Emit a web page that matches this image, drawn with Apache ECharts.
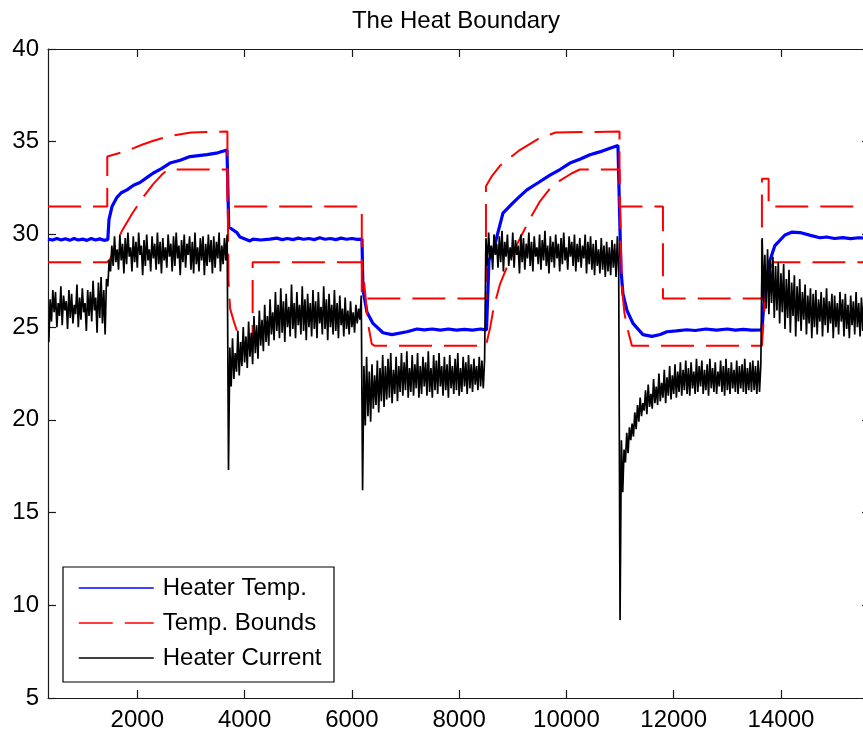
<!DOCTYPE html>
<html><head><meta charset="utf-8">
<script src="https://cdn.jsdelivr.net/npm/echarts@6/dist/echarts.min.js"></script>
<style>html,body{margin:0;padding:0;overflow:hidden;background:#fff}#c{width:870px;height:732px}</style>
</head><body><div id="c"></div>
<script>
const titleText = 'The Heat Boundary';
const seriesNames = ['Heater Temp.', 'Temp. Bounds', 'Heater Current'];
const xTicks = [2000, 4000, 6000, 8000, 10000, 12000, 14000];
const yTicks = [5, 10, 15, 20, 25, 30, 35, 40];

const heaterTemp = [
  [335,29.75],[420,29.7],[500,29.78],[580,29.7],[660,29.77],[740,29.68],[820,29.78],[900,29.7],[980,29.75],[1060,29.68],[1140,29.78],[1220,29.7],[1300,29.76],[1380,29.68],[1450,29.72],
  [1472,30.8],[1528,31.5],[1621,32.0],[1700,32.25],[1808,32.4],[1930,32.65],[2050,32.8],[2170,33.05],[2292,33.3],[2450,33.55],[2609,33.85],[2800,34.0],[2982,34.2],[3140,34.25],[3299,34.3],[3500,34.4],[3672,34.55],[3690,34.5],
  [3705,30.4],[3858,30.1],[3914,29.86],[4100,29.65],[4156,29.75],[4300,29.7],[4473,29.75],[4600,29.8],[4700,29.72],[4800,29.78],[4900,29.72],[5000,29.8],[5100,29.74],[5200,29.78],[5300,29.72],[5400,29.82],[5500,29.74],[5600,29.78],[5700,29.72],[5800,29.8],[5900,29.74],[6000,29.78],[6100,29.73],[6189,29.75],
  [6207,27.0],[6282,25.8],[6394,25.2],[6580,24.7],[6748,24.6],[7028,24.75],[7214,24.9],[7350,24.85],[7500,24.9],[7650,24.84],[7800,24.9],[7950,24.84],[8100,24.88],[8250,24.84],[8400,24.9],[8510,24.85],
  [8556,28.6],[8631,29.05],[8705,29.9],[8817,31.15],[9003,31.7],[9130,32.05],[9264,32.4],[9480,32.8],[9693,33.2],[9880,33.5],[10066,33.85],[10250,34.05],[10439,34.3],[10620,34.45],[10812,34.65],[10961,34.8],[10998,34.85],
  [11017,28.1],[11054,26.8],[11129,25.9],[11241,25.2],[11427,24.6],[11595,24.5],[11750,24.6],[11874,24.75],[12050,24.8],[12247,24.86],[12400,24.82],[12600,24.9],[12800,24.84],[13000,24.9],[13150,24.84],[13300,24.88],[13450,24.84],[13645,24.85],
  [13701,27.0],[13794,28.6],[13887,29.4],[14074,29.97],[14200,30.12],[14353,30.1],[14550,29.95],[14726,29.82],[14850,29.86],[15000,29.78],[15150,29.83],[15300,29.77],[15450,29.82],[15660,29.8]
];

const boundUpper = [
  [335,31.5],[1440,31.5],[1440,34.2],[1800,34.5],[2100,34.85],[2300,35.05],[2600,35.3],[3000,35.5],[3680,35.55],[3680,31.5],
  [6185,31.5],[6185,26.55],[8500,26.55],[8500,32.6],[8600,33.1],[8760,33.7],[9130,34.55],[9500,35.2],[9800,35.5],[10990,35.55],[10990,31.5],
  [11800,31.5],[11800,26.55],[13645,26.55],[13645,33.0],[13770,33.0],[13770,31.5],[15660,31.5]
];

const boundLower = [
  [335,28.5],[1440,28.5],[1500,28.7],[1550,29.1],[1715,30.2],[1900,31.1],[2106,32.0],[2292,32.7],[2450,33.2],[2570,33.5],[3680,33.5],
  [3700,27.5],[3730,26.0],[3800,25.3],[3880,24.6],[3970,24.1],[4150,24.0],[4150,28.5],[6185,28.5],
  [6250,26.8],[6300,25.2],[6370,24.1],[6420,24.0],[8500,24.0],[8580,25.0],[8640,26.0],[8760,27.3],[8900,28.3],[9050,29.3],[9190,30.1],[9350,31.0],[9510,31.8],[9700,32.5],[9880,32.9],[10100,33.3],[10250,33.5],[10990,33.5],
  [11010,30.0],[11040,27.0],[11080,25.8],[11130,25.0],[11221,24.0],[13645,24.0],[13680,25.5],[13720,27.0],[13780,28.0],[13850,28.5],[15660,28.5]
];

const currentStart = 350;
const currentStep = 25;
const heaterCurrent = [
  24.2,26.5,25.3,27.0,25.8,26.9,25.0,26.3,25.6,27.2,
  25.1,26.7,25.9,26.4,24.9,27.0,25.5,26.8,25.2,26.2,
  25.7,27.3,25.0,26.6,25.4,27.1,25.8,26.3,24.8,27.0,
  25.6,26.9,25.3,27.5,25.9,26.6,24.7,27.4,25.5,27.7,
  25.2,27.0,24.6,27.6,
  27.2,28.6,28.0,29.4,28.3,29.9,28.5,29.2,28.1,30.0,
  28.6,29.5,27.9,29.8,28.4,30.1,28.8,29.3,28.0,29.9,
  28.5,29.6,28.2,30.1,28.9,29.4,27.8,29.7,28.3,30.0,
  28.6,29.2,28.0,29.9,28.7,29.5,28.1,30.1,28.4,29.6,
  27.9,29.8,28.6,29.3,28.2,30.0,28.8,29.5,28.0,29.9,
  28.3,30.1,28.7,29.4,27.8,29.7,28.5,30.0,28.2,29.5,
  28.9,29.9,28.1,29.6,27.9,30.1,28.4,29.3,28.0,29.8,
  28.6,29.9,27.8,29.5,28.3,30.0,28.5,29.7,27.9,29.9,
  28.2,29.6,28.7,30.1,28.0,29.4,28.4,29.8,28.6,30.0,
  17.3,23.9,21.8,24.4,22.2,23.6,22.6,24.8,22.4,24.2,
  22.9,25.0,23.1,24.5,22.8,25.3,23.4,24.7,23.0,25.6,
  23.6,25.1,23.3,25.9,24.0,25.4,23.7,26.2,24.2,25.6,
  24.0,26.5,24.6,25.8,24.3,26.9,24.8,26.2,24.4,27.1,
  24.7,26.4,24.2,26.8,25.0,26.1,24.5,27.3,24.9,26.3,
  24.4,26.9,25.1,26.2,24.6,27.2,24.8,26.5,24.3,26.8,
  25.0,26.3,24.5,27.0,24.9,26.4,24.4,26.9,25.2,26.1,
  24.6,27.2,24.9,26.5,24.3,26.8,25.0,26.2,24.6,27.0,
  24.8,26.3,24.4,26.7,25.1,26.0,24.5,26.6,24.9,25.9,
  24.6,26.4,25.0,25.8,24.7,26.2,25.2,26.0,25.4,26.7,
  16.2,22.9,19.7,23.4,20.2,22.6,19.9,23.0,20.6,22.4,
  20.8,23.2,20.4,22.8,21.0,23.5,20.7,22.9,21.1,23.3,
  21.2,23.6,20.9,22.7,21.4,23.4,21.0,22.9,21.5,23.6,
  21.3,23.1,21.6,23.7,21.2,22.8,21.5,23.5,21.3,23.0,
  21.7,23.6,21.2,22.9,21.4,23.4,21.8,23.1,21.3,23.7,
  21.5,22.8,21.2,23.5,21.6,23.2,21.4,23.6,21.8,22.9,
  21.3,23.4,21.6,23.0,21.2,23.5,21.7,22.9,21.4,23.3,
  21.6,23.6,21.3,22.8,21.5,23.4,21.8,23.1,21.4,23.5,
  21.7,23.0,21.5,23.3,21.9,22.9,21.6,23.4,21.8,23.2,
  21.7,23.3,
  29.8,28.3,30.1,28.7,29.4,28.1,30.0,28.9,29.5,28.2,
  29.9,28.5,30.2,28.0,29.6,28.8,30.0,28.3,29.3,28.6,
  30.1,28.2,29.7,28.9,29.4,27.9,30.0,28.5,29.8,28.1,
  29.5,28.7,30.1,28.3,29.6,28.0,29.9,28.8,29.3,28.4,
  30.0,28.1,29.7,28.6,30.2,28.3,29.4,27.9,29.9,28.5,
  29.6,28.2,30.0,28.7,29.5,28.0,29.8,28.4,30.1,28.6,
  29.3,28.1,29.9,28.8,29.6,28.3,30.0,28.0,29.5,28.5,
  29.8,28.2,29.4,28.7,30.0,27.9,29.6,28.4,29.9,28.1,
  29.5,27.8,29.7,28.3,29.2,27.9,29.8,28.1,29.4,27.7,
  29.6,28.0,29.3,27.8,29.7,28.2,29.5,27.7,29.9,27.9,
  9.2,18.9,16.1,18.4,17.7,19.3,18.2,19.6,18.9,19.8,
  19.1,20.4,19.5,20.8,19.9,21.2,20.2,20.9,20.5,21.6,
  20.3,21.9,20.7,21.4,20.6,22.2,20.9,21.8,20.8,22.5,
  21.0,22.0,21.2,22.7,20.9,22.3,21.3,22.9,21.1,22.4,
  21.4,23.0,21.2,22.6,21.5,23.1,21.3,22.7,21.6,23.2,
  21.4,22.8,21.3,23.1,21.7,22.6,21.4,23.3,21.5,22.9,
  21.8,23.2,21.4,22.7,21.6,23.0,21.3,23.3,21.7,22.8,
  21.5,23.1,21.4,22.6,21.8,23.2,21.5,22.9,21.3,23.3,
  21.6,22.8,21.4,23.1,21.7,22.7,21.5,23.2,21.4,22.9,
  21.7,23.0,21.5,23.3,21.4,22.8,21.6,23.1,21.5,23.2,
  21.6,22.9,21.4,23.2,21.5,23.0,
  29.8,26.4,28.9,26.0,29.2,25.7,28.6,26.3,28.8,25.5,
  28.3,25.9,28.5,25.2,27.9,25.8,28.4,24.9,27.6,25.5,
  28.1,24.7,27.4,25.6,27.8,24.5,27.2,25.3,27.6,24.8,
  26.9,25.4,27.3,24.6,26.7,25.2,27.1,24.4,26.8,25.0,
  27.0,24.6,26.5,25.3,26.9,24.5,26.6,25.1,27.1,24.7,
  26.4,25.2,26.8,24.4,26.7,25.0,26.3,24.6,26.9,25.3,
  26.5,24.5,26.8,24.9,26.2,24.4,26.7,25.1,26.4,24.6,
  26.9,25.0,26.3,24.5,26.6,24.8,26.8,24.4,26.5,25.1,
  26.6
];

const FONT = 'Liberation Sans, Arial, sans-serif';
const AX = '#1a1a1a';
const FS = 24;
const currentData = heaterCurrent.map((v, i) => [currentStart + currentStep * i, v]);

const chart = echarts.init(document.getElementById('c'), null, {renderer: 'canvas'});
chart.setOption({
  animation: false,
  backgroundColor: '#fff',
  title: {
    text: titleText, left: 456, top: 9, textAlign: 'center', padding: 0,
    textStyle: {fontFamily: FONT, fontSize: FS, fontWeight: 'normal', color: '#000'}
  },
  grid: {left: 48, top: 49, right: 0, bottom: 34},
  graphic: [{
    type: 'rect', z: 5, shape: {x: 63, y: 567, width: 271, height: 115},
    style: {fill: '#fff', stroke: '#000', lineWidth: 1.2}
  }],
  legend: {
    z: 6, orient: 'vertical', left: 78, top: 576, padding: 0,
    itemWidth: 75, itemHeight: 14, itemGap: 11,
    data: [
      {name: seriesNames[0], itemStyle: {opacity: 0}, lineStyle: {color: '#0000ff', width: 1.5, type: 'solid'}},
      {name: seriesNames[1], itemStyle: {opacity: 0}, lineStyle: {color: '#ff0000', width: 1.5, type: [34, 12]}},
      {name: seriesNames[2], itemStyle: {opacity: 0}, lineStyle: {color: '#000000', width: 1.5, type: 'solid'}}
    ],
    textStyle: {fontFamily: FONT, fontSize: FS, color: '#000', lineHeight: 24, padding: [0, 0, 0, 4]},
    selectedMode: false
  },
  xAxis: [{
    type: 'value', min: 335, max: 15660, position: 'bottom',
    axisLine: {lineStyle: {color: AX, width: 1.2}},
    axisTick: {inside: true, length: 8, lineStyle: {color: AX, width: 1.2}, customValues: xTicks},
    axisLabel: {customValues: xTicks, formatter: v => String(v), fontFamily: FONT, fontSize: FS, color: '#000', margin: 10},
    splitLine: {show: false}
  }, {
    type: 'value', min: 335, max: 15660, position: 'top',
    axisLine: {lineStyle: {color: AX, width: 1.2}},
    axisTick: {inside: true, length: 8, lineStyle: {color: AX, width: 1.2}, customValues: xTicks},
    axisLabel: {show: false},
    splitLine: {show: false}
  }],
  yAxis: [{
    type: 'value', min: 5, max: 40, interval: 5, position: 'left',
    axisLine: {show: true, lineStyle: {color: AX, width: 1.2}},
    axisTick: {show: true, inside: true, length: 8, lineStyle: {color: AX, width: 1.2}},
    axisLabel: {fontFamily: FONT, fontSize: FS, color: '#000', margin: 9},
    splitLine: {show: false}
  }, {
    type: 'value', min: 5, max: 40, interval: 5, position: 'right',
    axisLine: {show: true, lineStyle: {color: AX, width: 1.2}},
    axisTick: {show: true, inside: true, length: 8, lineStyle: {color: AX, width: 1.2}},
    axisLabel: {show: false},
    splitLine: {show: false}
  }],
  series: [{
    name: seriesNames[0], type: 'line', data: heaterTemp, symbol: 'none', z: 2,
    itemStyle: {color: '#0000ff'}, lineStyle: {color: '#0000ff', width: 3.2}
  }, {
    name: seriesNames[1], type: 'line', data: boundUpper, symbol: 'none', z: 3,
    itemStyle: {color: '#ff0000'}, lineStyle: {color: '#ff0000', width: 2, type: [33, 12]}
  }, {
    name: seriesNames[1], type: 'line', data: boundLower, symbol: 'none', z: 3,
    itemStyle: {color: '#ff0000'}, lineStyle: {color: '#ff0000', width: 2, type: [33, 12]}
  }, {
    name: seriesNames[2], type: 'line', data: currentData, symbol: 'none', z: 4,
    itemStyle: {color: '#000'}, lineStyle: {color: '#000', width: 1.7}
  }]
});
</script></body></html>
